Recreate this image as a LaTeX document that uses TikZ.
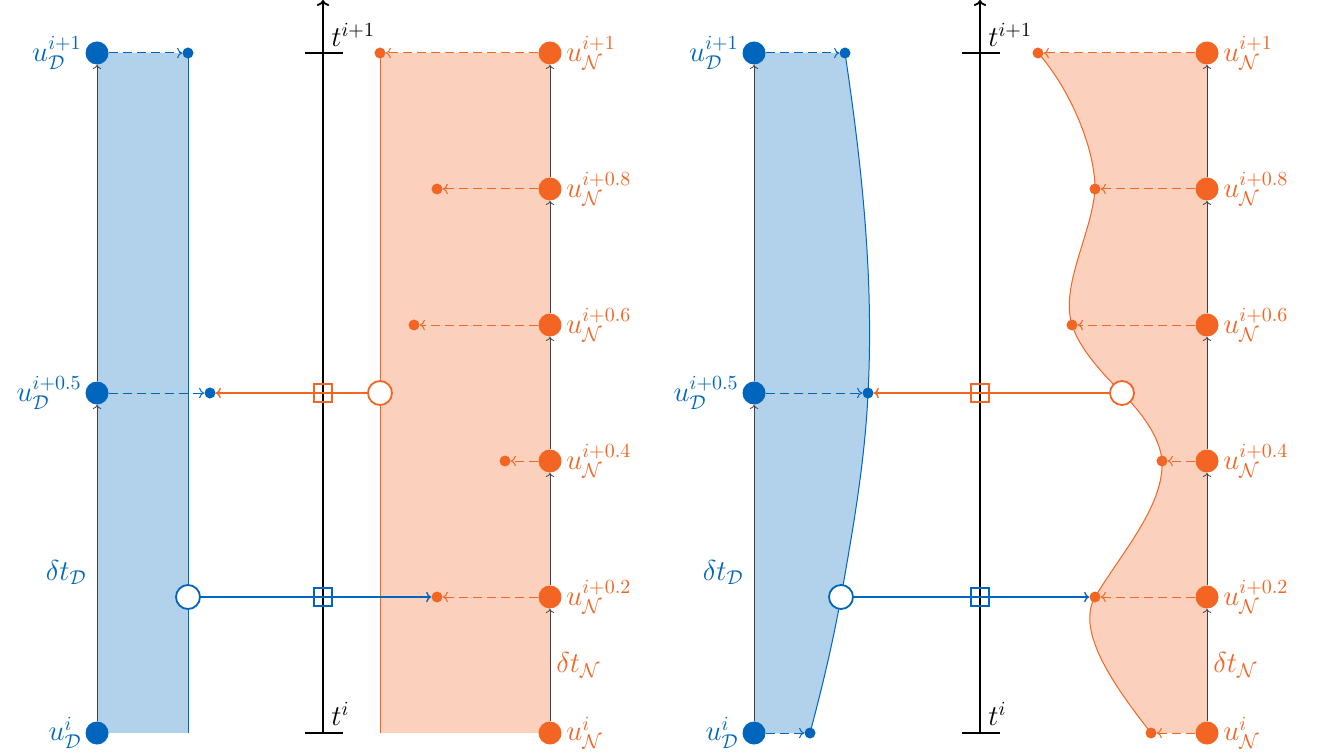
\documentclass[tikz,border=0pt]{standalone}
\usepackage{amsmath}
\usepackage{tikz}
\usetikzlibrary{arrows.meta}
\definecolor{dircolor}{RGB}{0,101,189}
\definecolor{neucolor}{RGB}{242,101,34}

\begin{document}
\begin{tikzpicture}[x=0.5pt, y=-0.5pt,
    bigdot/.style={circle, inner sep=0pt, minimum size=11.5pt},
    smalldot/.style={circle, inner sep=0pt, minimum size=5.5pt},
    hollow/.style={circle, draw, fill=white, line width=0.9pt, inner sep=0pt, minimum size=12pt},
    marker/.style={rectangle, draw, line width=0.8pt, inner sep=0pt, minimum size=9pt},
    edge/.style={line width=0.5pt},
    stepline/.style={-{To[length=2pt]}, draw=black!75, line width=0.4pt},
    transfer/.style={-{To[length=2.5pt]}, line width=0.5pt, dash pattern=on 4.5pt off 2.5pt},
    exchange/.style={-{To[length=2.5pt]}, line width=0.7pt},
    timeaxis/.style={line width=0.9pt},
    dlab/.style={text=dircolor, font=\Large},
    nlab/.style={text=neucolor, font=\Large},
    tlab/.style={anchor=south west, inner sep=0pt, font=\Large}
]
    \useasboundingbox (0,0) rectangle (1327,754);

    % left: fixed interface
    \fill[dircolor!30] (97,53) rectangle (188,733);
    \fill[neucolor!30] (380,53) rectangle (550,733);
    \draw[edge, dircolor] (188,53) -- (188,733);
    \draw[edge, neucolor] (380,53) -- (380,733);

    % right: moving interface
    \begin{scope}[xshift=328.5pt]
        \fill[dircolor!30] (97,733) -- (97,53) -- (188,53)
            .. controls (205,166) and (217,280) .. (211,393)
            .. controls (208,461) and (196,529) .. (184,597)
            .. controls (176,642) and (165,688) .. (153,733) -- cycle;
        \draw[edge, dircolor] (188,53)
            .. controls (205,166) and (217,280) .. (211,393)
            .. controls (208,461) and (196,529) .. (184,597)
            .. controls (176,642) and (165,688) .. (153,733);
        \fill[neucolor!30] (550,733) -- (550,53) -- (381,53)
            .. controls (410,85) and (438,145) .. (438,189)
            .. controls (435,234) and (403,285) .. (415,325)
            .. controls (423,350) and (447,375) .. (465,393)
            .. controls (483,411) and (503,436) .. (505,461)
            .. controls (507,506) and (465,552) .. (438,597)
            .. controls (418,632) and (459,688) .. (494,733) -- cycle;
        \draw[edge, neucolor] (381,53)
            .. controls (410,85) and (438,145) .. (438,189)
            .. controls (435,234) and (403,285) .. (415,325)
            .. controls (423,350) and (447,375) .. (465,393)
            .. controls (483,411) and (503,436) .. (505,461)
            .. controls (507,506) and (465,552) .. (438,597)
            .. controls (418,632) and (459,688) .. (494,733);
    \end{scope}

    % common to both panels
    \foreach \p/\s in {l-/0pt, r-/328.5pt} {
    \begin{scope}[xshift=\s, name prefix=\p]
        \draw[timeaxis, -{To[length=3pt]}] (323,733) -- (323,0);
        \draw[timeaxis] (305,53) -- (343,53) (305,733) -- (343,733);
        \node[tlab] (tend) at (331,47) {$t^{i+1}$};
        \node[tlab] (tstart) at (331,726) {$t^{i}$};

        \node[bigdot, fill=dircolor] (d0) at (97,733) {};
        \node[bigdot, fill=dircolor] (d5) at (97,393) {};
        \node[bigdot, fill=dircolor] (d10) at (97,53) {};
        \node[dlab, left, inner sep=1.5pt] (ud0) at (d0.west) {$u_{\mathcal{D}}^{i}$};
        \node[dlab, left, inner sep=1.5pt] (ud5) at (d5.west) {$u_{\mathcal{D}}^{i+0.5}$};
        \node[dlab, left, inner sep=1.5pt] (ud10) at (d10.west) {$u_{\mathcal{D}}^{i+1}$};
        \draw[stepline] (d0) -- node[dlab, left, pos=0.47, inner sep=5pt] (dtd) {$\delta t_{\mathcal{D}}$} (d5);
        \draw[stepline] (d5) -- (d10);

        \foreach \k/\y/\e in {0/733/i, 2/597/i+0.2, 4/461/i+0.4, 6/325/i+0.6, 8/189/i+0.8, 10/53/i+1} {
            \node[bigdot, fill=neucolor] (n\k) at (550,\y) {};
            \node[nlab, right, inner sep=2pt] (un\k) at (n\k.east) {$u_{\mathcal{N}}^{\e}$};
        }
        \foreach \a/\b in {0/2, 2/4, 4/6, 6/8, 8/10}
            \draw[stepline] (n\a) -- (n\b);
        \node[nlab, right, inner sep=2pt] (dtn) at (552,665) {$\delta t_{\mathcal{N}}$};

        \node[marker, draw=neucolor] (qN) at (323,393) {};
        \node[marker, draw=dircolor] (qD) at (323,597) {};
    \end{scope}
    }

    % left panel: dots and transfers
    \begin{scope}[name prefix=l-]
        \node[smalldot, fill=dircolor] (s5) at (210,393) {};
        \node[smalldot, fill=dircolor] (s10) at (188,53) {};
        \foreach \k/\x/\y in {2/437/597, 4/505/461, 6/414/325, 8/437/189, 10/380/53}
            \node[smalldot, fill=neucolor] (m\k) at (\x,\y) {};
        \node[hollow, draw=dircolor] (hD) at (188,597) {};
        \node[hollow, draw=neucolor] (hN) at (380,393) {};

        \draw[transfer, dircolor] (d5) -- (s5);
        \draw[transfer, dircolor] (d10) -- (s10);
        \foreach \k in {2,4,...,10}
            \draw[transfer, neucolor] (n\k) -- (m\k);
        \draw[exchange, neucolor] (hN) -- (s5);
        \draw[exchange, dircolor] (hD) -- (m2);
    \end{scope}

    % right panel: dots and transfers
    \begin{scope}[xshift=328.5pt, name prefix=r-]
        \node[smalldot, fill=dircolor] (s0) at (153,733) {};
        \node[smalldot, fill=dircolor] (s5) at (211,393) {};
        \node[smalldot, fill=dircolor] (s10) at (188,53) {};
        \foreach \k/\x/\y in {0/494/733, 2/438/597, 4/505/461, 6/415/325, 8/438/189, 10/381/53}
            \node[smalldot, fill=neucolor] (m\k) at (\x,\y) {};
        \node[hollow, draw=dircolor] (hD) at (184,597) {};
        \node[hollow, draw=neucolor] (hN) at (465,393) {};

        \draw[transfer, dircolor] (d0) -- (s0);
        \draw[transfer, dircolor] (d5) -- (s5);
        \draw[transfer, dircolor] (d10) -- (s10);
        \foreach \k in {0,2,...,10}
            \draw[transfer, neucolor] (n\k) -- (m\k);
        \draw[exchange, neucolor] (hN) -- (s5);
        \draw[exchange, dircolor] (hD) -- (m2);
    \end{scope}
\end{tikzpicture}
\end{document}
